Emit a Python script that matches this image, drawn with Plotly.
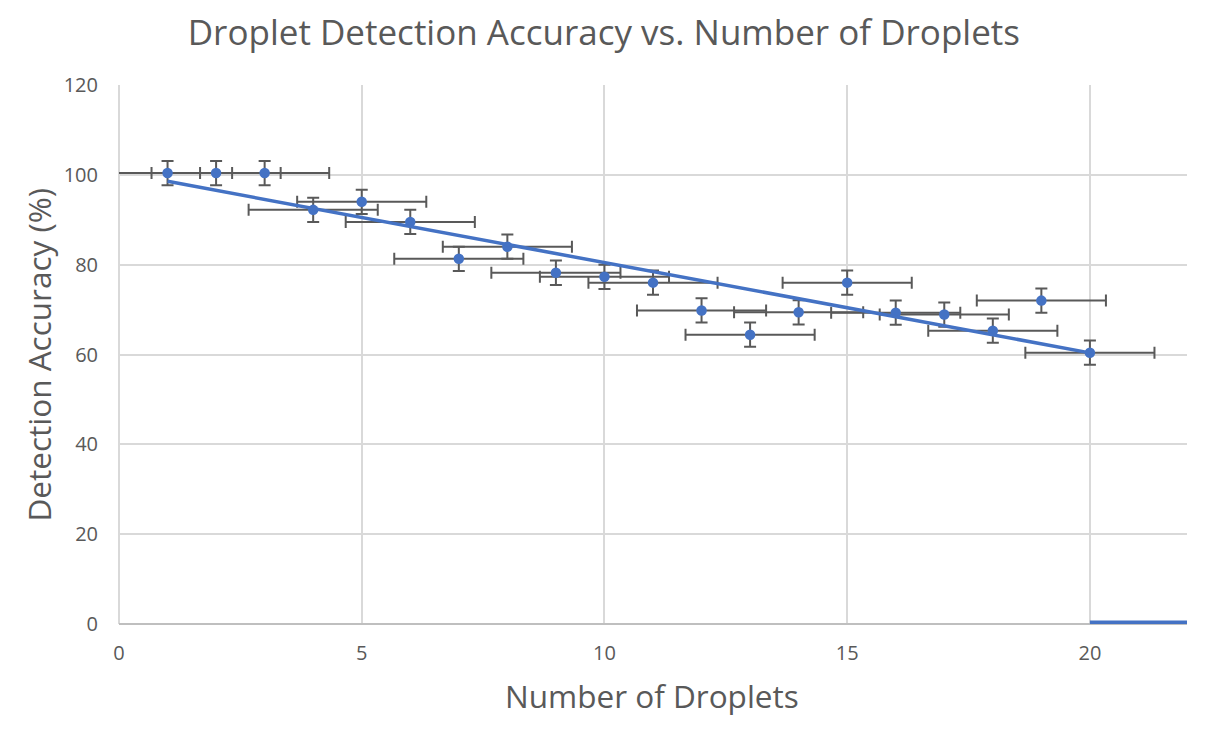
import numpy as np
import plotly.graph_objects as go

# ---- data ----
droplets = [1, 2, 3, 4, 5, 6, 7, 8, 9, 10, 11, 12, 13, 14, 15, 16, 17, 18, 19, 20]
accuracy = [100.4, 100.4, 100.4, 92.2, 94.0, 89.5, 81.3, 84.0, 78.2, 77.3,
            76.0, 69.8, 64.4, 69.4, 76.0, 69.3, 68.9, 65.3, 72.0, 60.4]
x_error = [1.33] * 20
y_error = [2.7] * 20
# stray blue segment on the x axis at the right of the reference
stray_x = [20, 22.2]
stray_y = [0, 0]

x_ticks = [0, 5, 10, 15, 20]
y_ticks = [0, 20, 40, 60, 80, 100, 120]

BLUE = "#4472C4"
GREY_TXT = "#595959"
FONT = "Open Sans, Calibri, Carlito, sans-serif"

# linear trendline from the data
slope, intercept = np.polyfit(droplets, accuracy, 1)
trend_x = [droplets[0], droplets[-1]]
trend_y = [slope * v + intercept for v in trend_x]

fig = go.Figure()

fig.add_trace(go.Scatter(
    x=droplets, y=accuracy, mode="markers",
    marker=dict(color=BLUE, size=10.5),
    error_x=dict(type="data", array=x_error, visible=True, color=GREY_TXT,
                 thickness=2, width=6),
    error_y=dict(type="data", array=y_error, visible=True, color=GREY_TXT,
                 thickness=2, width=6),
    showlegend=False, hoverinfo="x+y",
))

fig.add_trace(go.Scatter(
    x=trend_x, y=trend_y, mode="lines",
    line=dict(color=BLUE, width=3.5), showlegend=False, hoverinfo="skip",
))

fig.add_trace(go.Scatter(
    x=stray_x, y=stray_y, mode="lines",
    line=dict(color=BLUE, width=7), showlegend=False, hoverinfo="skip",
))

fig.update_layout(
    width=1216, height=740,
    margin=dict(l=111, r=37, t=77, b=124),
    paper_bgcolor="white", plot_bgcolor="white",
    font=dict(family=FONT, color=GREY_TXT),
    title=dict(text="Droplet Detection Accuracy vs. Number of Droplets",
               x=0.490, xanchor="center", y=1 - 25 / 740, yanchor="middle",
               yref="container", font=dict(size=35, color=GREY_TXT, family=FONT)),
    annotations=[
        dict(text="Number of Droplets", xref="paper", yref="paper",
             x=0.499, y=-0.132, xanchor="center", yanchor="middle",
             showarrow=False, font=dict(size=31.5, color=GREY_TXT, family=FONT)),
        dict(text="Detection Accuracy (%)", xref="paper", yref="paper",
             x=-0.0758, y=0.5, xanchor="center", yanchor="middle",
             textangle=-90, showarrow=False,
             font=dict(size=31.5, color=GREY_TXT, family=FONT)),
    ],
)

fig.update_xaxes(
    range=[0, 22], tickvals=x_ticks, ticks="", showgrid=True,
    gridcolor="#d9d9d9", gridwidth=1.5, zeroline=True, zerolinecolor="#d9d9d9",
    zerolinewidth=1.5, showline=False, layer="below traces",
    tickfont=dict(size=20, color=GREY_TXT, family=FONT), ticklabelstandoff=15,
)
fig.update_yaxes(
    range=[0, 120], tickvals=y_ticks, ticks="", showgrid=True,
    gridcolor="#d9d9d9", gridwidth=1.5, zeroline=True, zerolinecolor="#bfbfbf",
    zerolinewidth=1.5, showline=False, layer="below traces",
    tickfont=dict(size=20, color=GREY_TXT, family=FONT), ticklabelstandoff=20,
)

fig.write_html("out.html")
